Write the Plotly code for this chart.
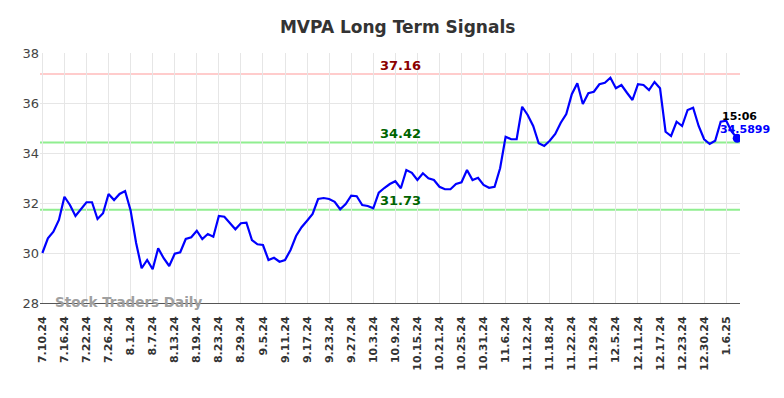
import pandas as pd
import plotly.graph_objects as go

holidays = ["2024-09-02", "2024-11-28", "2024-12-25", "2025-01-01"]
dates = pd.bdate_range("2024-07-10", "2025-01-08", freq="C", holidays=holidays)
date_labels = [f"{d.month}.{d.day}.{d.strftime('%y')}" for d in dates]

prices = [
    30.00, 30.59, 30.85, 31.32, 32.25, 31.92, 31.48, 31.76, 32.03, 32.03,
    31.36, 31.59, 32.36, 32.12, 32.36, 32.48, 31.70, 30.40, 29.39, 29.72,
    29.35, 30.19, 29.79, 29.48, 29.97, 30.03, 30.56, 30.63, 30.89, 30.56,
    30.76, 30.65, 31.48, 31.45, 31.19, 30.95, 31.19, 31.21, 30.52, 30.35,
    30.32, 29.72, 29.81, 29.65, 29.72, 30.12, 30.68, 31.03, 31.29, 31.56,
    32.16, 32.20, 32.16, 32.05, 31.75, 31.96, 32.29, 32.27, 31.92, 31.88,
    31.79, 32.41, 32.60, 32.76, 32.87, 32.59, 33.32, 33.21, 32.92, 33.19,
    32.99, 32.92, 32.65, 32.55, 32.55, 32.76, 32.83, 33.32, 32.92, 33.01,
    32.72, 32.61, 32.65, 33.39, 34.65, 34.55, 34.55, 35.85, 35.52, 35.08,
    34.39, 34.28, 34.49, 34.76, 35.21, 35.56, 36.35, 36.79, 35.96, 36.39,
    36.45, 36.75, 36.81, 37.01, 36.59, 36.72, 36.41, 36.12, 36.75, 36.72,
    36.52, 36.84, 36.59, 34.85, 34.68, 35.25, 35.08, 35.72, 35.81, 35.08,
    34.55, 34.36, 34.49, 35.25, 35.29, 34.85, 34.5899,
]
n = min(len(prices), len(date_labels))
x_vals = date_labels[:n]
prices = prices[:n]

tick_labels = x_vals[::4]

resistance = 37.16
support_hi = 34.42
support_lo = 31.73
last_time = "15:06"

fig = go.Figure()
fig.add_trace(go.Scatter(
    x=x_vals, y=prices, mode="lines",
    line=dict(color="#0000ff", width=2.2),
    hoverinfo="skip", showlegend=False,
))
fig.add_trace(go.Scatter(
    x=[x_vals[-1]], y=[prices[-1]], mode="markers",
    marker=dict(color="#0000ff", size=9),
    showlegend=False, hoverinfo="skip",
))

for val, col in [(resistance, "#ffcccc"), (support_hi, "#90ee90"), (support_lo, "#90ee90")]:
    fig.add_shape(type="line", xref="paper", x0=0, x1=1, yref="y", y0=val, y1=val,
                  line=dict(color=col, width=2), layer="below")

mid = x_vals[65]
for val, col in [(resistance, "#8b0000"), (support_hi, "#006400"), (support_lo, "#006400")]:
    fig.add_annotation(x=mid, y=val, text=f"<b>{val:.2f}</b>", showarrow=False,
                       yshift=9, font=dict(size=13, color=col, family="DejaVu Sans"))

fig.add_annotation(x=x_vals[-1], y=prices[-1], text=f"<b>{last_time}</b>", showarrow=False,
                   xanchor="center", yshift=22, xshift=2,
                   font=dict(size=11, color="#000000", family="DejaVu Sans"))
fig.add_annotation(x=x_vals[-1], y=prices[-1], text=f"<b>{prices[-1]}</b>", showarrow=False,
                   xanchor="center", yshift=9, xshift=8,
                   font=dict(size=11, color="#0000ff", family="DejaVu Sans"))

fig.add_annotation(xref="paper", yref="paper", x=0.019, y=0.0, xanchor="left", yanchor="middle",
                   yshift=1,
                   text="<b>Stock Traders Daily</b>", showarrow=False,
                   font=dict(size=13.5, color="#a0a0a0", family="DejaVu Sans"))

fig.update_layout(
    width=784, height=398,
    margin=dict(l=32, r=52, t=45, b=103),
    paper_bgcolor="white", plot_bgcolor="white",
    title=dict(text="<b>MVPA Long Term Signals</b>", x=0.497, xanchor="center", y=0.968,
               font=dict(size=17, color="#333333", family="DejaVu Sans")),
    font=dict(family="DejaVu Sans"),
)
fig.update_xaxes(
    type="category", range=[-0.43, n - 0.5],
    tickmode="array", tickvals=tick_labels, ticktext=[f"<b>{t}</b>" for t in tick_labels],
    tickangle=-90, tickfont=dict(size=11, color="#333333"), ticklabelstandoff=8,
    showgrid=True, gridcolor="#e6e6e6", gridwidth=1,
    showline=True, linecolor="#555555", linewidth=1, zeroline=False, ticks="",
)
fig.update_yaxes(
    range=[28, 38], tickvals=[28, 30, 32, 34, 36, 38],
    tickfont=dict(size=13, color="#444444"),
    showgrid=True, gridcolor="#e6e6e6", gridwidth=1, zeroline=False, ticks="",
)

fig.write_html("out.html")
